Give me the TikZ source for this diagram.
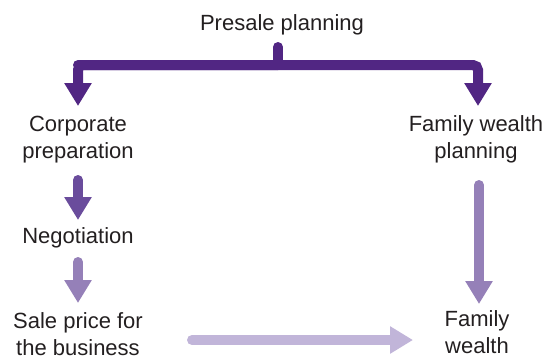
\documentclass[tikz,border=0pt]{standalone}
\usepackage{fontspec}
\setmainfont{Liberation Sans}
\usetikzlibrary{arrows.meta}
\definecolor{cDark}{RGB}{81,38,131}
\definecolor{cMid}{RGB}{106,76,156}
\definecolor{cLight}{RGB}{149,128,184}
\definecolor{cPale}{RGB}{193,181,217}
\definecolor{cText}{RGB}{35,31,32}
\tikzset{
  lbl/.style={font=\fontsize{22}{26.5}\selectfont, text=cText, align=center, inner sep=0pt, anchor=base},
  fatarrow/.style={line width=10pt, line cap=round, -{Triangle[width=26pt,length=23pt]}},
}
\begin{document}
\begin{tikzpicture}[x=1pt,y=-1pt]
\useasboundingbox (0,0) rectangle (546,360);
% labels (multi-line nodes are anchored at the baseline of their last line)
\node[lbl] (presale) at (282,30) {Presale planning};
\node[lbl] (corp) at (78,158) {Corporate\\preparation};
\node[lbl] (fwp) at (476,158) {Family wealth\\planning};
\node[lbl] (nego) at (78,243) {Negotiation};
\node[lbl] (sale) at (78,355) {Sale price for\\the business};
\node[lbl] (fw) at (477,353) {Family\\wealth};
% coordinates
\coordinate (stemtop) at (278,47);
\coordinate (join) at (278,65);
\coordinate (lcorner) at (78,65);
\coordinate (rcorner) at (478,65);
\coordinate (ltip) at (78,106);
\coordinate (rtip) at (478,106);
\coordinate (a1s) at (78,180);
\coordinate (a1e) at (78,220);
\coordinate (a2s) at (78,262);
\coordinate (a2e) at (78,303);
\coordinate (a3s) at (479,185);
\coordinate (a3e) at (479,304);
\coordinate (a4s) at (192,340);
\coordinate (a4e) at (413,340);
% bracket
\draw[cDark, line width=10pt, line cap=round] (stemtop) -- (join);
\draw[cDark, fatarrow, rounded corners=5pt] (lcorner) -- (rcorner) -- (rtip);
\draw[cDark, fatarrow, rounded corners=5pt] (join) -- (lcorner) -- (ltip);
% arrows
\draw[cMid, fatarrow] (a1s) -- (a1e);
\draw[cLight, fatarrow] (a2s) -- (a2e);
\draw[cLight, fatarrow] (a3s) -- (a3e);
\draw[cPale, fatarrow] (a4s) -- (a4e);
\end{tikzpicture}
\end{document}
